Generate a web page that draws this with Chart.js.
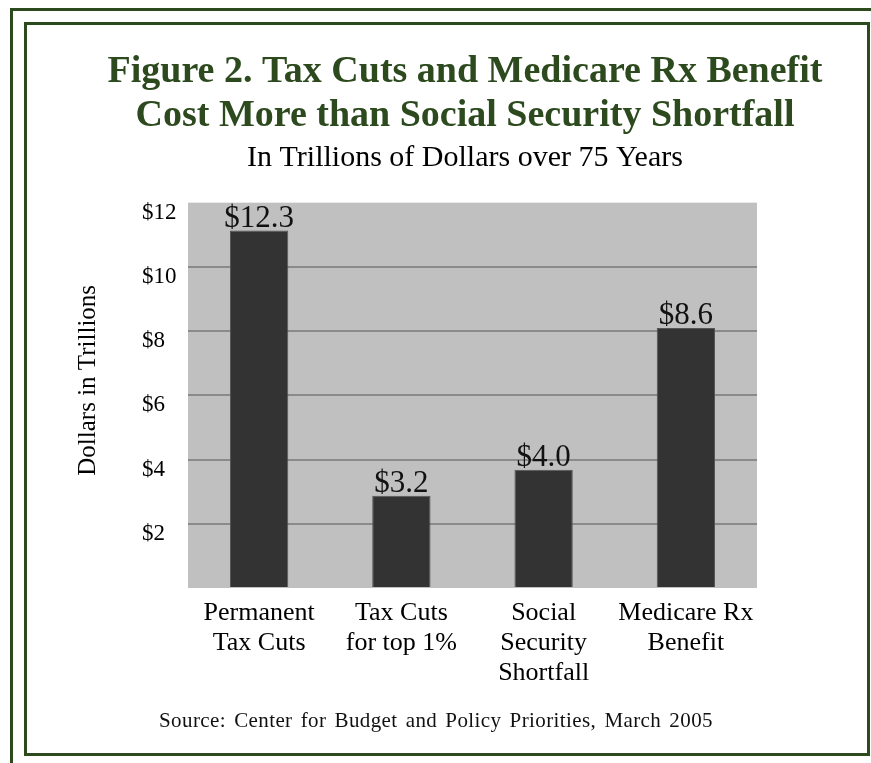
<!DOCTYPE html>
<html>
<head>
<meta charset="utf-8">
<script src="https://cdn.jsdelivr.net/npm/chart.js@4/dist/chart.umd.min.js"></script>
<style>
html, body { margin:0; padding:0; background:#fff; width:871px; height:763px; overflow:hidden; position:relative; }
#outer { position:absolute; left:10px; top:8px; width:900px; height:800px; border:3px solid #2d4a1f; box-sizing:border-box; }
#inner { position:absolute; left:24px; top:22px; width:846px; height:734px; border:3px solid #2d4a1f; box-sizing:border-box; background:#fff; }
#chart { position:absolute; left:0; top:0; }
#source { position:absolute; left:136px; width:600px; top:708px; line-height:24px; text-align:center;
  font-family:"Liberation Serif", serif; font-size:21px; letter-spacing:0.4px; word-spacing:2.5px; color:#111; white-space:nowrap; }
</style>
</head>
<body>
<div id="outer"></div>
<div id="inner"></div>
<canvas id="chart" width="930" height="763"></canvas>
<div id="source">Source: Center for Budget and Policy Priorities, March 2005</div>
<script>
// ---- data ----
const categories = [["Permanent", "Tax Cuts"], ["Tax Cuts", "for top 1%"], ["Social", "Security", "Shortfall"], ["Medicare Rx", "Benefit"]];
const barValues = [11.13, 2.87, 3.68, 8.10];          // bar heights as drawn in the picture
const valueLabels = ["$12.3", "$3.2", "$4.0", "$8.6"]; // printed value labels
const yTickValues = [0, 2, 4, 6, 8, 10, 12];
const titleLines = ["Figure 2. Tax Cuts and Medicare Rx Benefit", "Cost More than Social Security Shortfall"];
const subtitleText = "In Trillions of Dollars over 75 Years";
const yAxisTitle = "Dollars in Trillions";

const SERIF = '"Liberation Serif", "Times New Roman", serif';
Chart.defaults.font.family = SERIF;
Chart.defaults.color = '#000';

const plotBackground = {
  id: 'plotBackground',
  beforeDraw(chart) {
    const { ctx, chartArea: a } = chart;
    ctx.save();
    ctx.fillStyle = '#c0c0c0';
    ctx.fillRect(a.left, a.top, a.right - a.left, a.bottom - a.top);
    ctx.restore();
  }
};

// the axis title sits a little above the middle of the plot in the original
const yTitlePlacement = {
  id: 'yTitlePlacement',
  afterLayout(chart) {
    const s = chart.scales.yTitle;
    if (s) { s.bottom -= 30; }
  }
};

const barValueLabels = {
  id: 'barValueLabels',
  afterDatasetsDraw(chart) {
    const ctx = chart.ctx;
    const meta = chart.getDatasetMeta(0);
    ctx.save();
    ctx.font = '31px ' + SERIF;
    ctx.fillStyle = '#111';
    ctx.textAlign = 'center';
    ctx.textBaseline = 'alphabetic';
    meta.data.forEach((bar, i) => {
      ctx.fillText(valueLabels[i], bar.x, bar.y - 4);
    });
    ctx.restore();
  }
};

new Chart(document.getElementById('chart'), {
  type: 'bar',
  data: {
    labels: categories,
    datasets: [{
      data: barValues,
      backgroundColor: '#333333',
      borderColor: '#555555',
      borderWidth: 1,
      barPercentage: 0.41,
      categoryPercentage: 1.0
    }]
  },
  options: {
    responsive: false,
    animation: false,
    devicePixelRatio: 1,
    layout: { padding: { left: 0, right: 0, top: 0, bottom: 64 } },
    plugins: {
      legend: { display: false },
      tooltip: { enabled: false },
      title: {
        display: true,
        text: titleLines,
        color: '#2c4a1e',
        font: { family: SERIF, size: 38, weight: 'bold', lineHeight: 1.16 },
        padding: { top: 50, bottom: 2 }
      },
      subtitle: {
        display: true,
        text: subtitleText,
        color: '#000',
        font: { family: SERIF, size: 30, lineHeight: 1.2 },
        padding: { top: 0, bottom: 26.5 }
      }
    },
    scales: {
      x: {
        grid: { display: false, drawTicks: false },
        border: { display: false },
        ticks: {
          color: '#000',
          font: { family: SERIF, size: 26, lineHeight: 1.154 },
          padding: 10.5,
          maxRotation: 0,
          autoSkip: false
        }
      },
      y: {
        position: 'left',
        min: 0,
        max: 12,
        afterBuildTicks: (scale) => { scale.ticks = yTickValues.map(v => ({ value: v })); },
        grid: {
          drawTicks: false,
          lineWidth: 2,
          color: (c) => (c.tick && (c.tick.value === 0 || c.tick.value === 12)) ? 'rgba(0,0,0,0)' : '#8a8a8a'
        },
        border: { display: false },
        ticks: {
          callback: (v) => v === 0 ? '' : '$' + v,
          color: '#000',
          font: { family: SERIF, size: 23 },
          padding: 5.75,
          crossAlign: 'far',
          labelOffset: 10
        }
      },
      yTitle: {
        type: 'linear',
        position: 'left',
        weight: 1,
        display: true,
        grid: { display: false, drawTicks: false },
        border: { display: false },
        ticks: { display: false },
        title: {
          display: true,
          text: yAxisTitle,
          color: '#000',
          font: { family: SERIF, size: 25, lineHeight: 1.2 },
          padding: { top: 73, bottom: 39 }
        }
      },
      rightSpace: {
        type: 'linear',
        position: 'right',
        display: true,
        grid: { display: false, drawTicks: false },
        border: { display: false },
        ticks: { display: false },
        afterFit: (scale) => { scale.width = 173; }
      }
    }
  },
  plugins: [plotBackground, yTitlePlacement, barValueLabels]
});
</script>
</body>
</html>
